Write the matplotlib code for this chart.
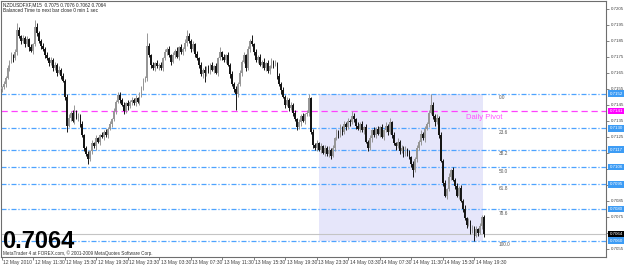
import matplotlib
matplotlib.use("Agg")
import matplotlib.pyplot as plt
import matplotlib.transforms as mtransforms
import numpy as np

plt.rcParams['font.family'] = ['Liberation Sans', 'DejaVu Sans']

# ---------------- data ----------------
symbol_line = "NZDUSDFXF,M15  0.7075 0.7076 0.7062 0.7064"
timer_line = "Balanced Time to next bar close 0 min 1 sec"
copyright_line = "MetaTrader 4 at FOREX.com, \u00a9 2001-2009 MetaQuotes Software Corp."
big_price = "0.7064"

base_price = 0.7000
pip = 0.0001
first_open = 155
# closes in pips above 0.7000, one per M15 bar
closes = [
    156, 158, 162, 168, 172, 176, 174, 178, 192, 188,
    185, 187, 183, 186, 181, 179, 183, 194, 190, 185,
    182, 180, 176, 174, 171, 173, 168, 170, 165, 167,
    163, 160, 150, 132, 137, 140, 135, 141, 137, 138,
    133, 126, 118, 114, 111, 116, 121, 119, 124, 122,
    126, 125, 128, 126, 130, 133, 136, 141, 147, 151,
    148, 145, 141, 146, 144, 147, 148, 146, 149, 147,
    151, 156, 160, 162, 182, 176, 170, 168, 171, 169,
    170, 168, 174, 178, 180, 176, 172, 176, 179, 175,
    181, 178, 180, 184, 188, 185, 180, 183, 177, 174,
    170, 164, 167, 165, 168, 166, 170, 167, 169, 165,
    174, 178, 175, 173, 176, 170, 164, 158, 155, 152,
    158, 165, 172, 176, 168, 180, 185, 183, 178, 173,
    175, 170, 172, 168, 171, 166, 169, 172, 170, 171,
    163, 158, 154, 150, 145, 148, 143, 145, 140, 136,
    131, 134, 138, 135, 139, 140, 149, 128, 120, 118,
    121, 117, 119, 115, 118, 114, 117, 113, 118, 124,
    128, 126, 131, 128, 133, 131, 135, 134, 138, 136,
    132, 130, 133, 129, 131, 122, 118, 124, 129, 126,
    130, 127, 131, 125, 129, 132, 128, 134, 126, 121,
    119, 122, 116, 118, 114, 117, 115, 112, 108, 104,
    111, 118, 122, 127, 124, 130, 133, 140, 145, 138,
    134, 137, 126, 110, 96, 88, 92, 100, 104, 98,
    94, 88, 93, 85, 80, 74, 70, 72, 66, 68,
    63, 67, 65, 69, 75, 64,
]
# upper / lower wick lengths in pips
wick_up = [
    1, 2, 1, 2, 1, 2, 1, 2, 4, 2, 1, 2, 1, 2, 1, 2, 1, 4, 2, 1,
    1, 2, 1, 2, 1, 2, 1, 2, 1, 2, 1, 2, 1, 2, 2, 1, 2, 4, 1, 2,
    1, 2, 1, 1, 2, 1, 2, 1, 2, 1, 1, 2, 1, 2, 1, 2, 1, 2, 1, 2,
    2, 1, 2, 1, 2, 1, 2, 1, 2, 1, 2, 1, 2, 1, 8, 2, 1, 2, 1, 2,
    1, 2, 1, 2, 1, 2, 1, 2, 1, 2, 1, 2, 1, 2, 4, 2, 1, 2, 1, 2,
    1, 2, 1, 2, 1, 2, 1, 2, 1, 2, 1, 3, 1, 2, 1, 2, 1, 2, 1, 2,
    1, 2, 1, 2, 1, 2, 1, 4, 1, 2, 1, 2, 1, 2, 1, 2, 1, 2, 1, 2,
    1, 2, 1, 2, 1, 2, 1, 2, 1, 2, 1, 2, 1, 2, 1, 2, 3, 1, 2, 1,
    2, 1, 2, 1, 2, 1, 2, 1, 2, 1, 2, 1, 2, 1, 2, 1, 2, 1, 3, 2,
    1, 2, 1, 2, 1, 2, 1, 2, 1, 2, 1, 2, 1, 2, 1, 2, 1, 3, 1, 2,
    1, 2, 1, 2, 1, 2, 1, 2, 1, 2, 1, 2, 1, 2, 1, 2, 1, 2, 7, 2,
    1, 2, 1, 2, 1, 2, 1, 2, 1, 2, 1, 2, 1, 2, 1, 2, 1, 2, 1, 2,
    1, 2, 1, 2, 1, 1,
]
wick_dn = [
    2, 1, 2, 1, 2, 1, 2, 1, 2, 1, 2, 1, 2, 1, 2, 1, 2, 1, 2, 1,
    2, 1, 2, 1, 2, 1, 2, 1, 2, 1, 2, 1, 2, 4, 1, 2, 1, 2, 1, 2,
    2, 1, 2, 1, 3, 1, 2, 1, 2, 1, 2, 1, 2, 1, 2, 1, 2, 1, 2, 1,
    2, 1, 2, 1, 2, 1, 2, 1, 2, 1, 2, 1, 2, 1, 2, 1, 2, 1, 2, 1,
    2, 1, 2, 1, 2, 1, 2, 1, 2, 1, 2, 1, 2, 1, 2, 1, 2, 1, 2, 1,
    2, 1, 2, 6, 2, 1, 2, 1, 2, 1, 2, 1, 2, 1, 2, 1, 2, 1, 2, 10,
    2, 1, 2, 1, 2, 1, 2, 1, 2, 1, 2, 1, 2, 1, 2, 1, 2, 1, 2, 1,
    2, 1, 2, 1, 2, 1, 2, 1, 2, 1, 2, 1, 2, 1, 2, 1, 2, 1, 2, 1,
    2, 1, 2, 1, 2, 1, 2, 2, 1, 2, 1, 2, 1, 2, 1, 2, 1, 2, 1, 2,
    2, 1, 2, 1, 2, 1, 2, 1, 2, 1, 2, 1, 2, 1, 2, 1, 2, 1, 2, 1,
    2, 1, 2, 1, 2, 1, 2, 1, 2, 4, 1, 2, 1, 2, 1, 2, 1, 2, 1, 2,
    2, 1, 2, 1, 2, 1, 2, 1, 2, 1, 2, 1, 2, 1, 2, 1, 2, 1, 2, 1,
    3, 1, 2, 1, 2, 2,
]

time_labels = [
    "12 May 2010", "12 May 11:30", "12 May 15:30", "12 May 19:30",
    "12 May 23:30", "13 May 03:30", "13 May 07:30", "13 May 11:30",
    "13 May 15:30", "13 May 19:30", "13 May 23:30", "14 May 03:30",
    "14 May 07:30", "14 May 11:30", "14 May 15:30", "14 May 19:30",
]
bars_per_label = 16

fib_high = 0.7152
fib_low = 0.7060
fib_ratios = [0.0, 23.6, 38.2, 50.0, 61.8, 78.6, 100.0]
fib_start_bar = 161
fib_end_bar = 244.5
pivot_price = 0.7141
pivot_label = "Daily Pivot"
bid_price = 0.7064

price_ticks = [0.7055, 0.7065, 0.7075, 0.7085, 0.7095, 0.7105, 0.7115, 0.7125,
               0.7135, 0.7145, 0.7155, 0.7165, 0.7175, 0.7185, 0.7195, 0.7205]

# ---------------- styles ----------------
bull_color = '#969696'
bear_color = '#151515'
fib_color = '#4da3ff'
fib_box = '#3d9cf5'
pivot_color = '#ff40ff'
rect_color = '#e6e6fa'

W, H = 625, 265
fig = plt.figure(figsize=(W / 100, H / 100), dpi=100)
fig.patch.set_facecolor('white')
ax = fig.add_axes([1 / W, 8.5 / H, 605 / W, 255.5 / H])
ax.set_facecolor('white')
ax.set_xlim(-0.3, 306.8)
ax.set_ylim(0.7050, 0.7210)

c = base_price + np.array(closes) * pip
o = base_price + np.array([first_open] + closes[:-1]) * pip
hi = np.maximum(o, c) + np.array(wick_up) * pip
lo = np.minimum(o, c) - np.array(wick_dn) * pip
xs = np.arange(len(c))
cols = np.where(c >= o, bull_color, bear_color)

# fibonacci rectangle
ax.fill_between([fib_start_bar, fib_end_bar], fib_low, fib_high, color=rect_color, lw=0, zorder=1)

# fib levels
fib_levels = [fib_high - (fib_high - fib_low) * r / 100 for r in fib_ratios]
for r, lvl in zip(fib_ratios, fib_levels):
    ln = ax.axhline(lvl, color=fib_color, lw=0.9, ls=(0, (4, 1.5, 1, 1.5)), zorder=2)
    ln.set_snap(True)
    ax.annotate(f"{r:.1f}", (252.5, lvl), xytext=(0, -4), textcoords='offset pixels',
                ha='left', va='center', fontsize=3.4, color='#555555', zorder=4)

# pivot
pl = ax.axhline(pivot_price, color=pivot_color, lw=0.9, ls=(0, (5, 3)), zorder=2)
pl.set_snap(True)
ax.annotate(pivot_label, (236, pivot_price), xytext=(-1, -6), textcoords='offset pixels',
            ha='left', va='center', fontsize=5.5, color='#ff55ff', zorder=4)

# bid line
bl = ax.axhline(bid_price, color='#c4c4c4', lw=0.8, zorder=2)
bl.set_snap(True)

# candles
ax.vlines(xs, lo, hi, colors=cols, lw=0.7, zorder=3)
ax.bar(xs, np.maximum(np.abs(c - o), 0.00004), bottom=np.minimum(o, c), width=0.9,
       color=cols, lw=0, zorder=3)

# price tags on the right axis
tags = [(lvl, f"{lvl:.4f}", fib_box) for lvl in fib_levels]
tags.append((pivot_price, f"{pivot_price:.4f}", '#ff00ff'))
tags.append((bid_price, f"{bid_price:.4f}", '#000000'))

# axes styling
for s in ax.spines.values():
    s.set_color('#6e6e6e')
    s.set_linewidth(0.8)
ax.yaxis.tick_right()
ax.set_yticks(price_ticks)
tick_texts = []
for t in price_ticks:
    covered = any(abs(t - lvl) < 0.00025 for lvl, _, _ in tags)
    tick_texts.append('' if covered else f"{t:.4f}")
ax.set_yticklabels(tick_texts)
ax.tick_params(axis='y', direction='out', length=2.5, width=0.6, colors='#6e6e6e',
               labelcolor='#404040', labelsize=3.15, pad=1.2, left=False, right=True)

label_bars = [i * bars_per_label for i in range(len(time_labels))]
ax.set_xticks(label_bars)
ax.set_xticklabels(time_labels, ha='left')
ax.tick_params(axis='x', direction='out', length=2.5, width=0.6, colors='#6e6e6e',
               labelcolor='#404040', labelsize=3.6, pad=0.0)
offset = mtransforms.ScaledTranslation(1.5 / 100, 0, fig.dpi_scale_trans)
for lab in ax.get_xticklabels():
    lab.set_transform(lab.get_transform() + offset)

blend = mtransforms.blended_transform_factory(ax.transAxes, ax.transData)
for lvl, txt, colr in tags:
    ax.annotate(txt, (1, lvl), xycoords=blend, xytext=(3.5, 0), textcoords='offset pixels',
                ha='left', va='center', fontsize=3.15, color='white', annotation_clip=False,
                bbox=dict(boxstyle='square,pad=0.3', fc=colr, ec='none'), zorder=5)

# texts
fig.text(3 / W, 1 - 5 / H, symbol_line, fontsize=3.4, color='#202020', va='center')
fig.text(3 / W, 1 - 10.5 / H, timer_line, fontsize=3.4, color='#202020', va='center')
fig.text(2 / W, 16.5 / H, big_price, fontsize=17, fontweight='bold', color='black',
         va='baseline', ha='left')
fig.text(3 / W, 1 - 253.5 / H, copyright_line, fontsize=3.3, color='#303030', va='center')

fig.savefig('out.png', dpi=100, facecolor='white')
